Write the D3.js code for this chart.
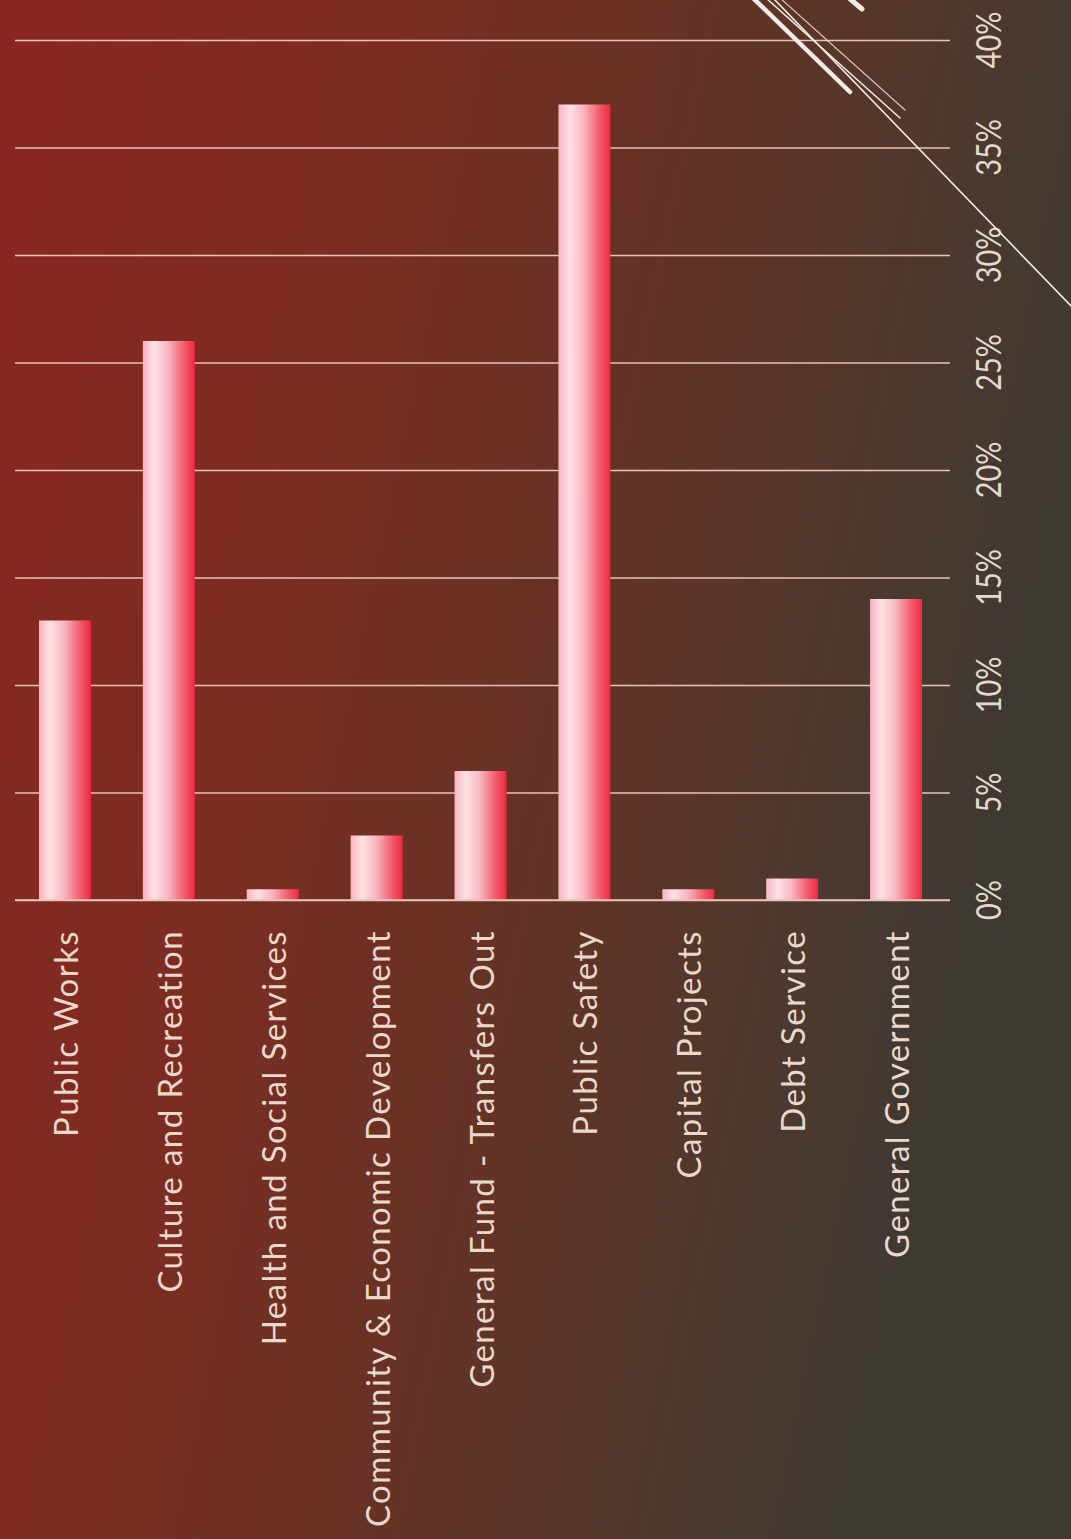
<!DOCTYPE html>
<html>
<head>
<meta charset="utf-8">
<script src="https://cdn.jsdelivr.net/npm/d3@7"></script>
<style>
  html, body { margin: 0; padding: 0; background: #5a3428; }
  svg { display: block; }
</style>
</head>
<body>
<svg id="chart" width="1071" height="1539"></svg>
<script>
const categories = [
  "Public Works",
  "Culture and Recreation",
  "Health and Social Services",
  "Community & Economic Development",
  "General Fund - Transfers Out",
  "Public Safety",
  "Capital Projects",
  "Debt Service",
  "General Government"
];
const values = [13, 26, 0.5, 3, 6, 37, 0.5, 1, 14];
const tickValues = [0, 5, 10, 15, 20, 25, 30, 35, 40];
const tickLabels = ["0%", "5%", "10%", "15%", "20%", "25%", "30%", "35%", "40%"];

const W = 1071, H = 1539;
const svg = d3.select("#chart");
const defs = svg.append("defs");

// background gradient
const bg = defs.append("linearGradient").attr("id", "bg")
  .attr("x1", 0).attr("y1", 0).attr("x2", 1).attr("y2", 0.3);
[[0, "#8a2620"], [0.35, "#7b2d22"], [0.65, "#603426"], [0.88, "#4a392f"], [1, "#3e3933"]]
  .forEach(([o, c]) => bg.append("stop").attr("offset", o).attr("stop-color", c));
svg.append("rect").attr("width", W).attr("height", H).attr("fill", "url(#bg)");

// bar gradient
const bargrad = defs.append("linearGradient").attr("id", "bar")
  .attr("x1", 0).attr("y1", 0).attr("x2", 1).attr("y2", 0);
[[0, "#f6b4c0"], [0.22, "#fde2e6"], [0.5, "#f9b2bf"], [0.8, "#f25a6a"], [1, "#ec2a3e"]]
  .forEach(([o, c]) => bargrad.append("stop").attr("offset", o).attr("stop-color", c));

const x = d3.scaleBand().domain(categories).range([13, 948]).paddingInner(0.5).paddingOuter(0.25);
const y = d3.scaleLinear().domain([0, 40]).range([900, 40]);

// gridlines via axis
const grid = svg.append("g").attr("transform", "translate(15,0)")
  .call(d3.axisRight(y).tickValues(tickValues).tickSize(935).tickFormat(""));
grid.select(".domain").remove();
grid.selectAll(".tick line").attr("stroke", "#e9c2b8").attr("stroke-width", 1.6);

// bars
svg.append("g").selectAll("rect").data(values).join("rect")
  .attr("x", (d, i) => x(categories[i]))
  .attr("width", x.bandwidth())
  .attr("y", d => y(d))
  .attr("height", d => y(0) - y(d))
  .attr("fill", "url(#bar)");

// baseline over bars
svg.append("line").attr("x1", 15).attr("x2", 950).attr("y1", y(0)).attr("y2", y(0))
  .attr("stroke", "#e9c2b8").attr("stroke-width", 1.6);

// tick labels
svg.append("g").selectAll("text").data(tickValues).join("text")
  .attr("transform", (d) => `translate(988,${y(d)}) rotate(-90) scale(0.85,1)`)
  .attr("text-anchor", "middle")
  .attr("dominant-baseline", "central")
  .attr("font-family", "Lato, 'Open Sans', sans-serif")
  .attr("font-size", 34)
  .attr("fill", "#e4d9cc")
  .text((d, i) => tickLabels[i]);

// category labels
svg.append("g").selectAll("text").data(categories).join("text")
  .attr("transform", d => `translate(${x(d) + x.bandwidth() / 2},930) rotate(-90)`)
  .attr("text-anchor", "end")
  .attr("dominant-baseline", "central")
  .attr("font-family", "Lato, 'Open Sans', sans-serif")
  .attr("font-size", 33)
  .attr("letter-spacing", 1.4)
  .attr("fill", "#ead8cc")
  .text(d => d);

// decorative diagonal lines (top right)
const deco = svg.append("g").attr("stroke", "#f2ece6").attr("stroke-linecap", "round");
deco.append("line").attr("x1", 753).attr("y1", -2).attr("x2", 850).attr("y2", 92).attr("stroke-width", 4.5);
deco.append("line").attr("x1", 766).attr("y1", -2).attr("x2", 900).attr("y2", 118).attr("stroke-width", 1.5);
deco.append("line").attr("x1", 780).attr("y1", -2).attr("x2", 905).attr("y2", 110).attr("stroke-width", 1.2).attr("opacity", 0.8);
deco.append("line").attr("x1", 773).attr("y1", -2).attr("x2", 1071).attr("y2", 306).attr("stroke-width", 1.6);
deco.append("line").attr("x1", 849).attr("y1", -2).attr("x2", 862).attr("y2", 9).attr("stroke-width", 5);
</script>
</body>
</html>
